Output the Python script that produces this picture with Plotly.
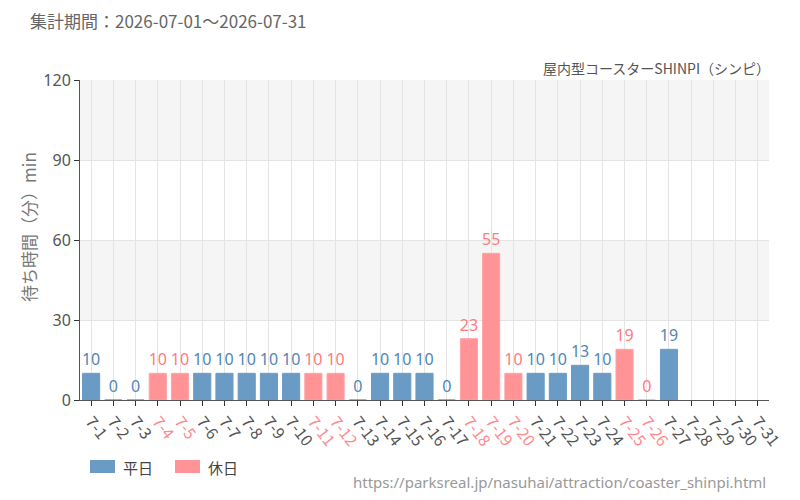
import plotly.graph_objects as go

days = [f"7-{d}" for d in range(1, 32)]
values = [10, 0, 0, 10, 10, 10, 10, 10, 10, 10, 10, 10, 0, 10, 10, 10, 0,
          23, 55, 10, 10, 10, 13, 10, 19, 0, 19, None, None, None, None]
holidays = ["7-4", "7-5", "7-11", "7-12", "7-18", "7-19", "7-20", "7-25", "7-26"]
title_text = "集計期間：2026-07-01～2026-07-31"
subtitle_text = "屋内型コースターSHINPI（シンピ）"
yaxis_label = "待ち時間（分）min"
legend_labels = ["平日", "休日"]
url_text = "https://parksreal.jp/nasuhai/attraction/coaster_shinpi.html"
y_ticks = [0, 30, 60, 90, 120]

WEEK_C = "#6a9bc4"
HOL_C = "#ff9396"
WEEK_T = "#4f87b7"
HOL_T = "#ff7b80"
JP = "Noto Sans CJK JP, Noto Sans, sans-serif"
NUM = "Noto Sans, sans-serif"

wk_x, wk_y, hd_x, hd_y = [], [], [], []
for d, v in zip(days, values):
    if v is None:
        continue
    if d in holidays:
        hd_x.append(d); hd_y.append(v)
    else:
        wk_x.append(d); wk_y.append(v)

fig = go.Figure()
fig.add_trace(go.Bar(x=wk_x, y=wk_y, name=legend_labels[0], marker_color=WEEK_C,
                     marker_line=dict(color=WEEK_C, width=1), width=0.77,
                     text=[str(v) for v in wk_y], textposition="outside",
                     constraintext="none",
                     textfont=dict(family=NUM, size=16, color=WEEK_T),
                     cliponaxis=False, showlegend=False))
fig.add_trace(go.Bar(x=hd_x, y=hd_y, name=legend_labels[1], marker_color=HOL_C,
                     marker_line=dict(color="#ffa3a6", width=1), width=0.77,
                     text=[str(v) for v in hd_y], textposition="outside",
                     constraintext="none",
                     textfont=dict(family=NUM, size=16, color=HOL_T),
                     cliponaxis=False, showlegend=False))

ticktext = [f"<span style='color:#ff8a8e'>{d}</span>" if d in holidays else d for d in days]

shapes = []
for lo, hi in [(30, 60), (90, 120)]:
    shapes.append(dict(type="rect", xref="paper", yref="y", x0=0, x1=1, y0=lo, y1=hi,
                       fillcolor="#f5f5f5", line_width=0, layer="below"))

W = 689.0; H = 320.0
def px(x): return (x - 80) / W
def py(y): return (400 - y) / H

# legend swatches
for (x0, c) in [(90, WEEK_C), (175, HOL_C)]:
    shapes.append(dict(type="rect", xref="paper", yref="paper", x0=px(x0), x1=px(x0 + 25),
                       y0=py(473), y1=py(460), fillcolor=c, line_width=0))

annotations = [
    dict(text=subtitle_text, xref="paper", yref="paper", x=px(772), y=py(68),
         xanchor="right", yanchor="middle", showarrow=False,
         font=dict(family=JP, size=14, color="#555")),
    dict(text=yaxis_label, xref="paper", yref="paper", x=px(28), y=py(227),
         xanchor="center", yanchor="middle", textangle=-90, showarrow=False,
         font=dict(family=JP, size=17, color="#777")),
    dict(text=legend_labels[0], xref="paper", yref="paper", x=px(121), y=py(467),
         xanchor="left", yanchor="middle", showarrow=False,
         font=dict(family=JP, size=15, color="#444")),
    dict(text=legend_labels[1], xref="paper", yref="paper", x=px(206), y=py(467),
         xanchor="left", yanchor="middle", showarrow=False,
         font=dict(family=JP, size=15, color="#444")),
    dict(text=url_text, xref="paper", yref="paper", x=px(768), y=py(482),
         xanchor="right", yanchor="middle", showarrow=False,
         font=dict(family=NUM, size=15, color="#999")),
]

fig.update_layout(
    width=800, height=500,
    margin=dict(l=80, r=31, t=80, b=100),
    paper_bgcolor="white", plot_bgcolor="white",
    barmode="overlay",
    title=dict(text=title_text, x=30/800, xanchor="left", y=1-22/500, yanchor="middle",
               xref="container", yref="container",
               font=dict(family=JP, size=17, color="#666")),
    shapes=shapes, annotations=annotations,
    xaxis=dict(type="category", categoryorder="array", categoryarray=days,
               tickmode="array", tickvals=days, ticktext=ticktext,
               tickangle=52, tickfont=dict(family=JP, size=16, color="#555"),
               showgrid=True, gridcolor="#e4e4e4", gridwidth=1,
               showline=True, linecolor="#555", linewidth=1,
               ticks="outside", ticklen=5, tickcolor="#333",
               range=[-0.5, 30.5], fixedrange=True),
    yaxis=dict(range=[0, 120], tickvals=y_ticks,
               tickfont=dict(family=NUM, size=16, color="#555"),
               showgrid=True, gridcolor="#e4e4e4", gridwidth=1,
               showline=True, linecolor="#555", linewidth=1,
               ticks="outside", ticklen=5, tickcolor="#333", zeroline=False),
    font=dict(family=JP),
)

fig.write_html("out.html")
